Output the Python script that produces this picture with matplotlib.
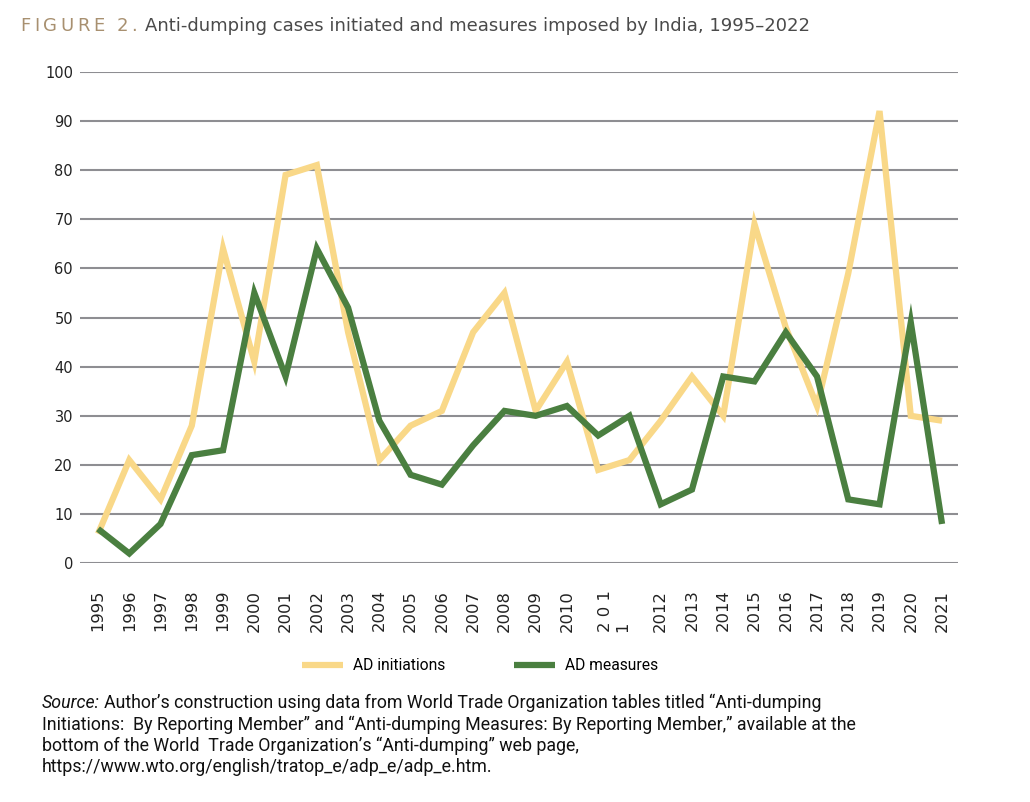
"""Anti-dumping cases initiated and measures imposed by India."""
import matplotlib
matplotlib.use("Agg")
import matplotlib.pyplot as plt
from matplotlib.lines import Line2D

# Dados (28 pontos, 1995-2022)
initiations = [6, 21, 13, 28, 64, 41, 79, 81, 47, 21, 28, 31, 47, 55, 31, 41,
               19, 21, 29, 38, 30, 69, 48, 32, 59, 92, 30, 29]
measures = [7, 2, 8, 22, 23, 55, 38, 64, 52, 29, 18, 16, 24, 31, 30, 32,
            26, 30, 12, 15, 38, 37, 47, 38, 13, 12, 49, 8]

# Rótulos do eixo x tal como aparecem no original (2011 quebrado)
tick_pos = list(range(16)) + [16.5] + list(range(18, 28))
tick_labels = [str(y) for y in range(1995, 2011)] + ["2 0 1\n1"] + \
              [str(y) for y in range(2012, 2022)]

YELLOW = "#F9D888"
GREEN = "#4A7F40"
GRID = "#8E8E92"
SRC_FONT = "Roboto"

W, H = 1030, 802
fig = plt.figure(figsize=(W / 100, H / 100), dpi=100)
fig.patch.set_facecolor("white")
renderer = fig.canvas.get_renderer()


def fit(txt, width_px):
    """ajusta o tamanho da fonte para a largura medida no original"""
    s = txt.get_fontsize()
    w = txt.get_window_extent(renderer).width
    txt.set_fontsize(s * width_px / w)
    return txt


# eixo posicionado em pixels do original
left, right, top, bottom = 80, 958, 71.7, 563.3
ax = fig.add_axes([left / W, 1 - bottom / H, (right - left) / W, (bottom - top) / H])

x = list(range(len(initiations)))
ax.plot(x, initiations, color=YELLOW, lw=4.5, solid_joinstyle="miter",
        solid_capstyle="butt", zorder=3)
ax.plot(x, measures, color=GREEN, lw=4.5, solid_joinstyle="miter",
        solid_capstyle="butt", zorder=4)

ax.set_ylim(0, 100)
ax.set_xlim(-0.576, 27.51)
ax.set_yticks(range(0, 101, 10))
for v in range(0, 101, 10):
    ax.axhline(v, color=GRID, lw=1.5, zorder=1)
for s in ax.spines.values():
    s.set_visible(False)
ax.tick_params(axis="y", length=0, pad=5, labelsize=10.5, labelcolor="#222222")
ax.set_xticks(tick_pos)
ax.set_xticklabels(tick_labels, rotation=90, fontsize=11.8, color="#222222",
                   va="top", ha="center", multialignment="left")
ax.tick_params(axis="x", length=0, pad=19)

# Título: "FIGURE 2." com espaçamento entre letras
ty = 1 - 31 / H
chars = list("FIGURE 2.")
pieces = [fig.text(0, ty, c, color="#A89070", fontsize=13, va="baseline")
          for c in chars]
widths = [p.get_window_extent(renderer).width if c != " " else 4.5
          for p, c in zip(pieces, chars)]
gap = (117 - sum(widths)) / (len(chars) - 1)
xc = 20
for p, w in zip(pieces, widths):
    p.set_x(xc / W)
    xc += w + gap
fig.text(145 / W, ty,
         "Anti-dumping cases initiated and measures imposed by India, 1995\u20132022",
         color="#4A4A4A", fontsize=13, va="baseline", ha="left")

# Legenda
ly = 1 - 666 / H
leg_font = 12
t1 = fit(fig.text(0, 0, "AD initiations", family=SRC_FONT, fontsize=leg_font), 92)
leg_font = t1.get_fontsize()
t1.remove()
em = leg_font * 100 / 72
handles = [Line2D([], [], color=YELLOW, lw=4.5, solid_capstyle="butt"),
           Line2D([], [], color=GREEN, lw=4.5, solid_capstyle="butt")]
fig.legend(handles, ["AD initiations", "AD measures"], ncol=2, frameon=False,
           loc="center", bbox_to_anchor=(480 / W, ly),
           prop={"family": SRC_FONT, "size": leg_font}, handlelength=41 / em,
           handletextpad=10 / em, columnspacing=69 / em, borderpad=0)

# Fonte
src_lines = [
    "Author\u2019s construction using data from World Trade Organization tables titled \u201cAnti-dumping",
    "Initiations:  By Reporting Member\u201d and \u201cAnti-dumping Measures: By Reporting Member,\u201d available at the",
    "bottom of the World  Trade Organization\u2019s \u201cAnti-dumping\u201d web page,",
    "https://www.wto.org/english/tratop_e/adp_e/adp_e.htm.",
]
ys = [703, 725, 746, 767]
probe = fit(fig.text(0, 0, src_lines[1], family=SRC_FONT, fontsize=12), 809)
src_size = probe.get_fontsize()
probe.remove()

t = fig.text(42 / W, 1 - ys[0] / H, "Source:", style="italic", fontsize=src_size,
             family=SRC_FONT, va="center", ha="left", color="#111111")
bb = t.get_window_extent(renderer)
fig.text((bb.x1 + 4) / W, 1 - ys[0] / H, src_lines[0], fontsize=src_size,
         family=SRC_FONT, va="center", ha="left", color="#111111")
for line, yy in zip(src_lines[1:], ys[1:]):
    fig.text(42 / W, 1 - yy / H, line, fontsize=src_size, family=SRC_FONT,
             va="center", ha="left", color="#111111")

fig.savefig("out.png", dpi=100)
